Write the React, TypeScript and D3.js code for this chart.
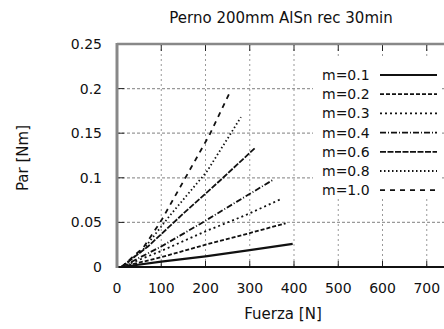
import React from "react";
import * as d3 from "d3";

// fuerza [N] / par [Nm], one array per friction coefficient
const m01 = [[10, 0], [100, 0.006], [200, 0.012], [300, 0.019], [397, 0.026]];
const m02 = [[10, 0], [100, 0.011], [200, 0.025], [300, 0.038], [381, 0.049]];
const m03 = [[10, 0], [100, 0.018], [200, 0.04], [290, 0.058], [370, 0.076]];
const m04 = [[10, 0], [100, 0.023], [187, 0.048], [270, 0.073], [352, 0.0975]];
const m06 = [[10, 0], [70, 0.023], [150, 0.06], [233, 0.097], [311, 0.133]];
const m08 = [[10, 0], [60, 0.02], [120, 0.058], [203, 0.107], [255, 0.148], [280, 0.168]];
const m10 = [[10, 0], [60, 0.022], [100, 0.052], [158, 0.103], [210, 0.149], [257, 0.198]];

const seriesNames = ["m=0.1", "m=0.2", "m=0.3", "m=0.4", "m=0.6", "m=0.8", "m=1.0"];
const seriesData = [m01, m02, m03, m04, m06, m08, m10];
const dashes = ["none", "4,2", "2,3", "6,2,1,2", "6,1.5", "1.5,2.5", "5,5"];

const xTicks = [0, 100, 200, 300, 400, 500, 600, 700, 800];
const yTicks = [0, 0.05, 0.1, 0.15, 0.2, 0.25];

export default function App() {
  const width = 444;
  const height = 329;
  const x = d3.scaleLinear().domain([0, 800]).range([117, 471]);
  const y = d3.scaleLinear().domain([0, 0.25]).range([267, 44]);
  const font = "'DejaVu Sans', sans-serif";

  const line = d3.line<number[]>()
    .x(d => x(d[0]))
    .y(d => y(d[1]));

  const legendX = 322;
  const legendY = 75;
  const legendStep = 19.2;

  return (
    <div style={{position: "absolute", left: 0, top: 0}}>
      <svg width={width} height={height} style={{display: "block", background: "#fff"}} fontFamily={font}>
        {/* grid */}
        {xTicks.slice(1).map(t => (
          <line key={"gx" + t} x1={x(t)} x2={x(t)} y1={y(0.25)} y2={y(0)}
                stroke="#999" strokeWidth={1} strokeDasharray="2,3"/>
        ))}
        {yTicks.slice(1, -1).map(t => (
          <line key={"gy" + t} x1={x(0)} x2={x(800)} y1={y(t)} y2={y(t)}
                stroke="#999" strokeWidth={1.2} strokeDasharray="3,2"/>
        ))}

        {/* ticks */}
        {xTicks.map(t => (
          <g key={"tx" + t}>
            <line x1={x(t)} x2={x(t)} y1={y(0)} y2={y(0) - 6} stroke="#222"/>
            <line x1={x(t)} x2={x(t)} y1={y(0.25)} y2={y(0.25) + 7} stroke="#222"/>
          </g>
        ))}
        {yTicks.map(t => (
          <line key={"ty" + t} x1={x(0)} x2={x(0) + 7} y1={y(t)} y2={y(t)} stroke="#222"/>
        ))}

        {/* frame */}
        <line x1={x(0)} x2={x(800)} y1={y(0.25)} y2={y(0.25)} stroke="#888" strokeWidth={2.5}/>
        <line x1={x(0)} x2={x(800)} y1={y(0)} y2={y(0)} stroke="#111" strokeWidth={2}/>
        <line x1={x(0)} x2={x(0)} y1={y(0.25) - 1} y2={y(0) + 1} stroke="#888" strokeWidth={3}/>

        {/* data */}
        {seriesData.map((d, i) => (
          <path key={seriesNames[i]} d={line(d) || ""} fill="none" stroke="#111"
                strokeWidth={i === 0 ? 2.2 : 1.8} strokeDasharray={dashes[i]}/>
        ))}

        {/* legend */}
        <rect x={313} y={57} width={127} height={142} fill="#fff"/>
        {seriesNames.map((name, i) => (
          <g key={"lg" + name}>
            <text x={legendX} y={legendY + i * legendStep} dy="0.35em" fontSize={14} fill="#111">{name}</text>
            <line x1={380} x2={437} y1={legendY + i * legendStep} y2={legendY + i * legendStep}
                  stroke="#111" strokeWidth={i === 0 ? 2.2 : 1.8} strokeDasharray={dashes[i]}/>
          </g>
        ))}

        {/* tick labels */}
        {xTicks.slice(0, -1).map(t => (
          <text key={"lx" + t} x={x(t)} y={288} dy="0.35em" textAnchor="middle" fontSize={14} fill="#111">{t}</text>
        ))}
        {yTicks.map(t => (
          <text key={"ly" + t} x={102} y={y(t)} dy="0.35em" textAnchor="end" fontSize={14} fill="#111">
            {String(+t.toFixed(2))}
          </text>
        ))}

        {/* titles */}
        <text x={281} y={23} textAnchor="middle" fontSize={15} fill="#111">Perno 200mm AlSn rec 30min</text>
        <text x={283} y={319} textAnchor="middle" fontSize={15} fill="#111">Fuerza [N]</text>
        <text transform="translate(28,158) rotate(-90)" textAnchor="middle" fontSize={15} fill="#111">Par [Nm]</text>
      </svg>
    </div>
  );
}
